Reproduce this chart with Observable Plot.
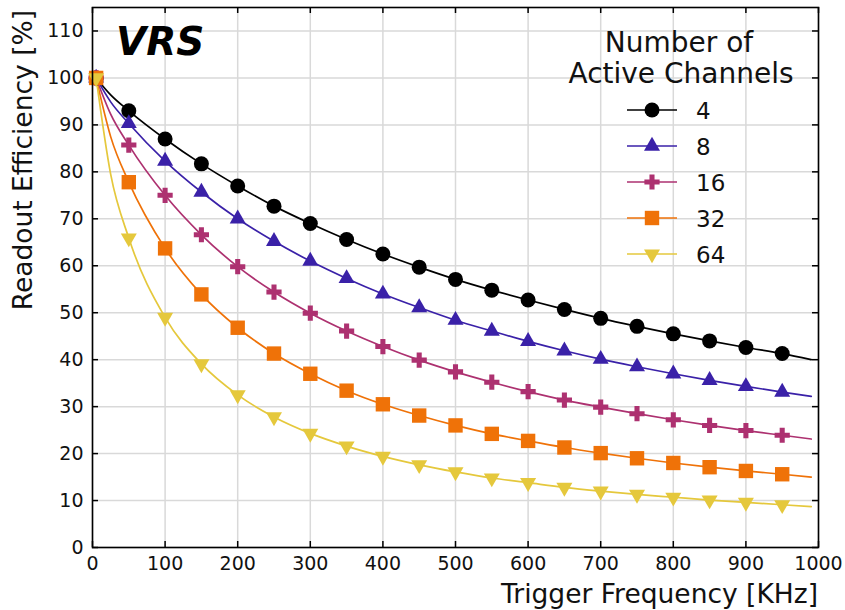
<!DOCTYPE html>
<html>
<head>
<meta charset="utf-8">
<script src="https://cdn.jsdelivr.net/npm/d3@7"></script>
<script src="https://cdn.jsdelivr.net/npm/@observablehq/plot@0.6"></script>
<style>
  html, body { margin: 0; padding: 0; background: #fff; }
  #chart { width: 845px; height: 610px; }
  svg { font-family: "DejaVu Sans", sans-serif; }
</style>
</head>
<body>
<div id="chart"></div>
<script>
// ---------- data ----------
const channels = ["4", "8", "16", "32", "64"];
const colors = ["#000000", "#3a21a8", "#ad3170", "#ef7208", "#e5c83c"];
const freq = [5, 50, 100, 150, 200, 250, 300, 350, 400, 450, 500, 550, 600, 650, 700, 750, 800, 850, 900, 950];
const eff4  = [100, 93.0, 87.0, 81.7, 77.0, 72.7, 69.0, 65.6, 62.5, 59.7, 57.1, 54.8, 52.7, 50.7, 48.8, 47.1, 45.5, 44.0, 42.6, 41.3];
const eff8  = [100, 90.3, 82.3, 75.7, 70.0, 65.2, 61.0, 57.3, 54.0, 51.1, 48.4, 46.1, 43.9, 41.9, 40.1, 38.5, 37.0, 35.6, 34.3, 33.1];
const eff16 = [100, 85.7, 75.0, 66.6, 59.8, 54.4, 49.9, 46.1, 42.8, 39.9, 37.4, 35.2, 33.2, 31.4, 29.9, 28.5, 27.2, 26.0, 24.9, 23.9];
const eff32 = [100, 77.8, 63.7, 53.9, 46.8, 41.3, 37.0, 33.4, 30.5, 28.1, 26.0, 24.2, 22.7, 21.3, 20.1, 19.0, 18.0, 17.1, 16.3, 15.6];
const eff64 = [100, 65.9, 49.0, 39.1, 32.5, 27.8, 24.3, 21.6, 19.4, 17.6, 16.1, 14.8, 13.8, 12.8, 12.0, 11.3, 10.7, 10.1, 9.6, 9.1];
// extra points (line only)
const lineAt25  = [96.4, 94.9, 92.3, 87.5, 79.5];
const lineAt990 = [40.0, 32.2, 23.1, 15.0, 8.7];
const xTicks = [0, 100, 200, 300, 400, 500, 600, 700, 800, 900, 1000];
const yTicks = [0, 10, 20, 30, 40, 50, 60, 70, 80, 90, 100, 110];

const series = [eff4, eff8, eff16, eff32, eff64];

// ---------- custom symbols ----------
const symCircle = { draw(ctx, size) { const r = Math.sqrt(size / Math.PI); ctx.moveTo(r, 0); ctx.arc(0, 0, r, 0, 2 * Math.PI); } };
const symTriUp = { draw(ctx, size) { const R = Math.sqrt(size / Math.PI) * 1.25; ctx.moveTo(0, -R); ctx.lineTo(0.866 * R, 0.5 * R); ctx.lineTo(-0.866 * R, 0.5 * R); ctx.closePath(); } };
const symTriDown = { draw(ctx, size) { const R = Math.sqrt(size / Math.PI) * 1.25; ctx.moveTo(0, R); ctx.lineTo(0.866 * R, -0.5 * R); ctx.lineTo(-0.866 * R, -0.5 * R); ctx.closePath(); } };
const symSquare = { draw(ctx, size) { const s = Math.sqrt(size / Math.PI); ctx.rect(-s, -s, 2 * s, 2 * s); } };
const symPlus = { draw(ctx, size) { const s = Math.sqrt(size / Math.PI), a = s / 3;
  ctx.moveTo(-a, -s); ctx.lineTo(a, -s); ctx.lineTo(a, -a); ctx.lineTo(s, -a); ctx.lineTo(s, a); ctx.lineTo(a, a);
  ctx.lineTo(a, s); ctx.lineTo(-a, s); ctx.lineTo(-a, a); ctx.lineTo(-s, a); ctx.lineTo(-s, -a); ctx.lineTo(-a, -a); ctx.closePath(); } };
const symbols = [symCircle, symTriUp, symPlus, symSquare, symTriDown];
const radii = [7.5, 7.4, 7.6, 7.2, 7.4];

// ---------- tables ----------
const points = [];
const lines = [];
series.forEach((vals, i) => {
  vals.forEach((v, j) => points.push({ ch: channels[i], i, f: freq[j], v }));
  lines.push({ ch: channels[i], i, f: freq[0], v: vals[0] });
  lines.push({ ch: channels[i], i, f: 25, v: lineAt25[i] });
  vals.slice(1).forEach((v, j) => lines.push({ ch: channels[i], i, f: freq[j + 1], v }));
  lines.push({ ch: channels[i], i, f: 990, v: lineAt990[i] });
});

const W = 845, H = 610, mL = 92, mR = 27, mT = 7, mB = 63;
const tickLenX = 6 / ((W - mL - mR) / 1000);
const tickLenY = 6 / ((H - mT - mB) / 115);

const plot = Plot.plot({
  width: W, height: H,
  marginLeft: mL, marginRight: mR, marginTop: mT, marginBottom: mB,
  style: { fontFamily: "DejaVu Sans, sans-serif", background: "#fff" },
  x: { domain: [0, 1000] },
  y: { domain: [0, 115] },
  marks: [
    Plot.gridX(xTicks, { stroke: "#d9d9d9", strokeOpacity: 1, strokeWidth: 1.5 }),
    Plot.gridY(yTicks, { stroke: "#d9d9d9", strokeOpacity: 1, strokeWidth: 1.5 }),
    Plot.axisX(xTicks, { tickSize: 0, tickPadding: 9, fontSize: 19, fill: "#111", label: null, tickFormat: d => String(d) }),
    Plot.axisY(yTicks, { tickSize: 0, tickPadding: 9, fontSize: 19, fill: "#111", label: null, tickFormat: d => String(d) }),
    // inward ticks on all four sides
    Plot.ruleX(xTicks, { x: d => d, y1: 0, y2: tickLenY, stroke: "#000", strokeWidth: 1.5 }),
    Plot.ruleX(xTicks, { x: d => d, y1: 115 - tickLenY, y2: 115, stroke: "#000", strokeWidth: 1.5 }),
    Plot.ruleY(yTicks, { y: d => d, x1: 0, x2: tickLenX, stroke: "#000", strokeWidth: 1.5 }),
    Plot.ruleY(yTicks, { y: d => d, x1: 1000 - tickLenX, x2: 1000, stroke: "#000", strokeWidth: 1.5 }),
    ...channels.map((c, i) => Plot.line(lines.filter(d => d.i === i), {
      x: "f", y: "v", stroke: colors[i], strokeWidth: 1.7, curve: "monotone-x"
    })),
    ...channels.map((c, i) => Plot.dot(points.filter(d => d.i === i), {
      x: "f", y: "v", fill: colors[i], stroke: "none", r: radii[i], symbol: symbols[i]
    })),
    Plot.frame({ stroke: "#000", strokeWidth: 1.6 })
  ]
});

document.getElementById("chart").appendChild(plot);

// ---------- annotations: axis titles, VRS tag, legend ----------
const svg = d3.select(plot);
svg.append("text").attr("x", 818).attr("y", 603).attr("text-anchor", "end")
  .attr("font-size", 26.5).attr("fill", "#111").text("Trigger Frequency [KHz]");
svg.append("text").attr("transform", "translate(32,10) rotate(-90)").attr("text-anchor", "end")
  .attr("font-size", 26.5).attr("fill", "#111").text("Readout Efficiency [%]");
svg.append("text").attr("x", 116).attr("y", 55).attr("font-size", 39).attr("text-anchor", "start")
  .attr("font-weight", "bold").attr("font-style", "italic").attr("fill", "#000").text("VRS");

const lg = svg.append("g");
lg.append("text").attr("x", 679).attr("y", 52).attr("text-anchor", "middle").attr("font-size", 28).attr("fill", "#111").text("Number of");
lg.append("text").attr("x", 681).attr("y", 83).attr("text-anchor", "middle").attr("font-size", 28).attr("fill", "#111").text("Active Channels");
const legY = [110, 146, 182, 218, 254];
channels.forEach((c, i) => {
  const y = legY[i];
  lg.append("line").attr("x1", 627).attr("x2", 677).attr("y1", y).attr("y2", y).attr("stroke", colors[i]).attr("stroke-width", 1.7);
  lg.append("path").attr("transform", `translate(652,${y})`)
    .attr("d", d3.symbol().type(symbols[i]).size(Math.PI * radii[i] * radii[i])())
    .attr("fill", colors[i]);
  lg.append("text").attr("x", 696).attr("y", y + 8.5).attr("text-anchor", "start").attr("font-size", 23).attr("fill", "#111").text(c);
});
</script>
</body>
</html>
